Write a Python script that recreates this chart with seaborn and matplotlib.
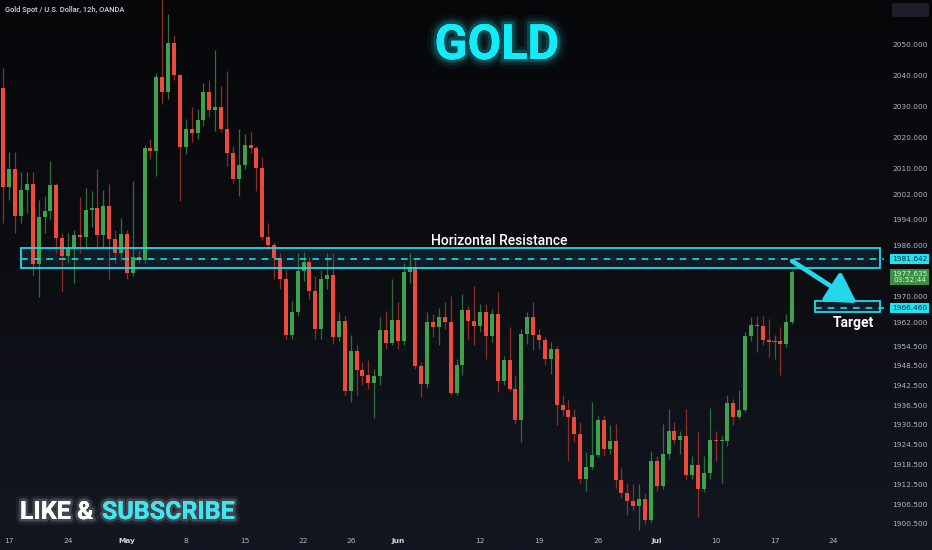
import numpy as np
import pandas as pd
import seaborn as sns
import matplotlib.pyplot as plt
import matplotlib.patheffects as PathEffects
from matplotlib.patches import Rectangle, FancyBboxPatch
from matplotlib.colors import LinearSegmentedColormap
from matplotlib.ticker import FixedLocator, NullLocator
from matplotlib.transforms import blended_transform_factory

# 12h candles, XAUUSD (OANDA), mid April -> 18 July 2023
opens = [2035.9, 2004.4, 2010.1, 1995.0, 2003.3, 2005.1, 1980.1, 1994.8, 1996.8, 2004.8,
         1988.2, 1982.6, 1985.0, 1989.1, 1988.4, 1997.1, 1997.8, 1989.2, 1998.2, 1987.8,
         1983.5, 1989.4, 1977.3, 1982.4, 1981.4, 2016.8, 2015.7, 2039.5, 2034.6, 2050.2,
         2040.0, 2017.0, 2022.6, 2021.3, 2025.5, 2034.6, 2028.8, 2029.7, 2022.6, 2015.2,
         2006.7, 2011.1, 2017.6, 2016.5, 2010.2, 1988.6, 1986.0, 1981.9, 1975.5, 1957.9,
         1965.1, 1978.0, 1980.7, 1971.7, 1959.9, 1975.3, 1976.5, 1957.4, 1962.5, 1940.7,
         1953.0, 1947.1, 1945.6, 1943.4, 1945.4, 1959.7, 1955.6, 1962.8, 1956.2, 1977.6,
         1979.2, 1948.5, 1942.8, 1962.0, 1960.6, 1963.5, 1962.0, 1940.3, 1948.9, 1965.8,
         1962.5, 1960.9, 1965.1, 1957.7, 1964.5, 1943.9, 1950.2, 1941.5, 1931.8, 1958.4,
         1963.5, 1957.9, 1956.6, 1950.7, 1953.8, 1936.6, 1934.9, 1932.8, 1927.7, 1913.9,
         1917.8, 1921.3, 1931.8, 1923.1, 1925.7, 1913.7, 1909.8, 1907.3, 1906.0, 1908.1,
         1901.7, 1919.5, 1911.9, 1921.6, 1928.7, 1926.0, 1927.2, 1915.2, 1918.2, 1910.9,
         1915.8, 1925.8, 1925.4, 1925.6, 1937.0, 1932.8, 1935.1, 1957.7, 1961.2, 1960.8,
         1956.6, 1955.9, 1956.1, 1955.1, 1962.0]
highs = [2042.3, 2015.3, 2015.3, 2008.9, 2008.9, 2008.9, 2000.3, 2001.3, 2012.4, 2005.7,
         1989.8, 1989.8, 1990.8, 2001.0, 2004.1, 2002.9, 2009.9, 2003.2, 2005.1, 1990.8,
         1994.6, 1990.8, 2006.1, 1984.5, 2017.5, 2019.4, 2040.8, 2079.0, 2059.8, 2052.9,
         2040.2, 2025.8, 2029.6, 2029.0, 2037.6, 2038.5, 2048.1, 2036.4, 2041.2, 2017.3,
         2022.6, 2021.0, 2021.6, 2017.3, 2013.7, 1993.0, 1987.0, 1983.5, 1978.3, 1968.6,
         1983.5, 1983.9, 1982.4, 1976.3, 1978.3, 1983.5, 1983.5, 1965.2, 1964.0, 1957.9,
         1954.8, 1949.7, 1950.2, 1947.7, 1963.6, 1965.5, 1975.3, 1968.1, 1980.4, 1983.6,
         1981.4, 1949.7, 1965.1, 1964.5, 1966.4, 1968.1, 1970.1, 1950.7, 1970.7, 1967.1,
         1973.2, 1967.6, 1967.6, 1966.1, 1971.4, 1951.7, 1960.5, 1945.6, 1959.9, 1965.1,
         1968.1, 1959.9, 1957.4, 1955.9, 1954.6, 1939.5, 1938.0, 1935.4, 1931.3, 1922.1,
         1937.4, 1933.3, 1933.3, 1930.3, 1930.8, 1917.5, 1912.9, 1912.4, 1912.4, 1909.8,
         1922.6, 1921.1, 1930.8, 1935.4, 1931.3, 1928.7, 1935.4, 1921.1, 1928.2, 1921.1,
         1935.6, 1928.7, 1927.2, 1939.5, 1938.5, 1941.0, 1958.9, 1963.5, 1964.0, 1964.0,
         1963.0, 1957.9, 1960.5, 1964.5, 1978.3]
lows = [1993.0, 2000.3, 1989.8, 1993.0, 1996.2, 1976.3, 1969.7, 1989.8, 1993.9, 1983.5,
        1971.6, 1980.5, 1974.3, 1983.5, 1985.4, 1991.7, 1985.4, 1985.4, 1975.3, 1980.5,
        1981.4, 1975.3, 1976.2, 1980.5, 1980.5, 2013.1, 2007.7, 2030.6, 2032.2, 2038.5,
        1999.8, 2014.6, 2018.5, 2019.4, 2023.7, 2026.4, 2022.1, 2021.7, 2010.9, 2005.6,
        2001.4, 2009.9, 2015.2, 2003.0, 1987.5, 1984.5, 1975.3, 1972.2, 1956.9, 1956.9,
        1964.0, 1974.7, 1969.1, 1956.9, 1956.9, 1972.2, 1955.3, 1956.3, 1939.5, 1937.4,
        1939.5, 1942.5, 1941.5, 1932.5, 1942.5, 1953.8, 1954.8, 1953.8, 1954.8, 1974.3,
        1947.7, 1939.0, 1941.7, 1957.5, 1954.8, 1959.9, 1939.5, 1939.5, 1945.6, 1956.9,
        1954.8, 1958.9, 1950.7, 1955.9, 1940.5, 1942.5, 1940.7, 1930.8, 1925.2, 1955.3,
        1953.3, 1953.8, 1948.7, 1946.1, 1930.3, 1933.3, 1919.5, 1925.2, 1912.9, 1910.3,
        1917.0, 1920.6, 1921.1, 1921.6, 1911.4, 1908.3, 1903.2, 1904.7, 1898.8, 1900.6,
        1901.1, 1910.3, 1910.9, 1920.1, 1924.7, 1921.6, 1913.9, 1913.9, 1902.7, 1910.0,
        1913.9, 1919.5, 1912.9, 1924.1, 1930.3, 1932.3, 1934.4, 1956.3, 1952.8, 1954.8,
        1951.3, 1950.7, 1945.8, 1954.3, 1961.5]
closes = [2004.4, 2010.1, 1995.0, 2003.3, 2005.1, 1980.1, 1994.8, 1996.8, 2004.8, 1988.2,
          1982.6, 1985.0, 1989.1, 1988.4, 1997.1, 1997.8, 1989.2, 1998.2, 1987.8, 1983.5,
          1989.4, 1977.3, 1982.4, 1981.4, 2016.8, 2015.7, 2039.5, 2034.6, 2050.2, 2040.0,
          2017.0, 2022.6, 2021.3, 2025.5, 2034.6, 2028.8, 2029.7, 2022.6, 2015.2, 2006.7,
          2011.1, 2017.6, 2016.5, 2010.2, 1988.6, 1986.0, 1981.9, 1975.5, 1957.9, 1965.1,
          1978.0, 1980.7, 1971.7, 1959.9, 1975.3, 1976.5, 1957.4, 1962.5, 1940.7, 1953.0,
          1947.1, 1945.4, 1943.4, 1945.4, 1959.7, 1955.6, 1962.8, 1956.2, 1977.6, 1979.2,
          1948.5, 1942.8, 1962.0, 1960.6, 1963.5, 1962.0, 1940.3, 1948.9, 1965.8, 1962.5,
          1960.9, 1965.1, 1957.7, 1964.5, 1943.9, 1950.2, 1941.5, 1931.8, 1958.4, 1963.5,
          1957.9, 1956.6, 1950.7, 1953.8, 1936.6, 1934.9, 1932.8, 1927.7, 1913.9, 1917.8,
          1921.3, 1931.8, 1923.1, 1925.7, 1913.7, 1909.8, 1907.3, 1906.0, 1908.1, 1901.7,
          1919.5, 1911.9, 1921.6, 1928.7, 1926.0, 1927.2, 1915.2, 1918.2, 1910.9, 1915.8,
          1925.8, 1925.4, 1925.6, 1937.0, 1932.8, 1935.1, 1957.7, 1961.2, 1960.8, 1956.6,
          1955.9, 1956.1, 1955.1, 1962.0, 1977.7]

date_ticks = [1, 11, 21, 31, 41, 51, 59, 67, 81, 91, 101, 111, 121, 131, 141]
date_labels = ["17", "24", "May", "8", "15", "22", "26", "Jun", "12", "19", "26", "Jul", "10", "17", "24"]
price_ticks = [1900.5, 1906.5, 1912.5, 1918.5, 1924.5, 1930.5, 1936.5, 1942.5, 1948.5, 1954.5,
               1962.0, 1970.0, 1986.0, 1994.0, 2002.0, 2010.0, 2020.0, 2030.0, 2040.0, 2050.0]

res_top, res_bot, res_line = 1985.2, 1978.7, 1981.642
tgt_top, tgt_bot, tgt_line = 1968.5, 1965.1, 1966.460
last_price, countdown = 1977.635, "03:52:44"

GREEN, RED = "#3fa14c", "#ee4a3c"
WICK_G, WICK_R = "#2f6e3a", "#8a302b"
CYAN = "#22d8ea"

sns.set_theme(style="dark", rc={"axes.facecolor": "none", "figure.facecolor": "#0b0c10",
                                "axes.grid": False})
plt.rcParams['font.family'] = ['DejaVu Sans']

df = pd.DataFrame({"open": opens, "high": highs, "low": lows, "close": closes})
df["i"] = np.arange(len(df))
up = (df.close >= df.open).values

W, H = 932, 550
fig = plt.figure(figsize=(W / 100, H / 100), dpi=100)

# background gradient
bg = fig.add_axes([0, 0, 1, 1], zorder=-10)
grad = np.linspace(0, 1, 256).reshape(-1, 1)
bg.imshow(grad, aspect="auto", extent=[0, 1, 0, 1], origin="upper",
          cmap=LinearSegmentedColormap.from_list("bg", ["#060709", "#0c0e12", "#131722"]))
bg.axis("off")

ax = fig.add_axes([0, 17 / H, 884 / W, 533 / H])
ax.set_facecolor("none")
ax.set_yscale("log")

# candles
ax.vlines(df.i[up], df.low[up], df.high[up], color=WICK_G, lw=0.9, zorder=2)
ax.vlines(df.i[~up], df.low[~up], df.high[~up], color=WICK_R, lw=0.9, zorder=2)
body = np.maximum((df.close - df.open).abs(), 0.35)
ax.bar(df.i, body, bottom=df[["open", "close"]].min(axis=1), width=0.68,
       color=np.where(up, GREEN, RED), linewidth=0, zorder=3)

xmin, xmax = -0.56, 149.6
ax.set_xlim(xmin, xmax)
ax.set_ylim(1897.8, 2064.3)

# resistance zone
rx0, rx1 = 3.0, 148.95
ax.add_patch(Rectangle((rx0, res_bot), rx1 - rx0, res_top - res_bot,
                       fc=(0.12, 0.45, 0.65, 0.16), ec="none", zorder=1))
ax.add_patch(Rectangle((rx0, res_bot), rx1 - rx0, res_top - res_bot,
                       fc="none", ec=CYAN, lw=1.3, zorder=4))
l, = ax.plot([rx0, xmax], [res_line, res_line], color=CYAN, lw=1.2, zorder=4)
l.set_dashes((4, 3.6))
ax.annotate("Horizontal Resistance", xy=(84.2, res_top), xytext=(0, 1.6),
            textcoords="offset points", ha="center", va="baseline",
            fontsize=10, color="white", family=["Roboto", "DejaVu Sans"], fontweight="medium")

# target zone
tx0, tx1 = 137.9, 148.95
ax.add_patch(Rectangle((tx0, tgt_bot), tx1 - tx0, tgt_top - tgt_bot,
                       fc=(0.12, 0.45, 0.65, 0.16), ec=CYAN, lw=1.3, zorder=4))
l2, = ax.plot([tx0, xmax], [tgt_line, tgt_line], color=CYAN, lw=1.2, zorder=4)
l2.set_dashes((4, 3.6))
ax.annotate("Target", xy=(144.4, tgt_bot), xytext=(0, -2.5), textcoords="offset points",
            ha="center", va="top", fontsize=10, color="white",
            family=["Roboto", "DejaVu Sans"], fontweight="bold")

# arrow from resistance down to target
ax.annotate("", xy=(145.0, 1967.9), xytext=(df.i.iloc[-1], 1981.0),
            arrowprops=dict(arrowstyle="-|>,head_length=0.55,head_width=0.32", lw=3.4,
                            color=CYAN, mutation_scale=32, shrinkA=0, shrinkB=0), zorder=5)

# axes styling
for s in ax.spines.values():
    s.set_visible(False)
ax.grid(False)
ax.yaxis.tick_right()
ax.yaxis.set_major_locator(FixedLocator(price_ticks))
ax.yaxis.set_minor_locator(NullLocator())
ax.set_yticklabels([f"{p:.3f}" for p in price_ticks])
ax.tick_params(axis="y", length=0, pad=6, labelsize=5.3, labelcolor="#b2b5be")
ax.set_xticks(date_ticks, date_labels)
ax.tick_params(axis="x", length=0, pad=3.5, labelsize=5.3, labelcolor="#b2b5be")
for t in ax.get_xticklabels():
    if t.get_text() in ("May", "Jun", "Jul"):
        t.set_fontweight("bold")
        t.set_color("#d1d4dc")

# price labels on the scale
trans = blended_transform_factory(fig.transFigure, ax.transData)
ax.text(909.5 / W, res_line, f"{res_line:.3f}", transform=trans, ha="center", va="center",
        fontsize=5.3, color="#0b2a30", zorder=6,
        bbox=dict(boxstyle="square,pad=0.25", fc="#1fe3f4", ec="none"))
ax.text(909.5 / W, last_price - 1.6, f"{last_price:.3f}\n{countdown}", transform=trans,
        ha="center", va="center", fontsize=5.3, color="#d9f2da", linespacing=1.1, zorder=6,
        bbox=dict(boxstyle="square,pad=0.3", fc="#3a8f42", ec="none"))
ax.text(909.5 / W, tgt_line, f"{tgt_line:.3f}", transform=trans, ha="center", va="center",
        fontsize=5.3, color="#0b2a30", zorder=6,
        bbox=dict(boxstyle="square,pad=0.25", fc="#1fe3f4", ec="none"))

# header texts
fig.text(5 / W, 1 - 10.5 / H, "Gold Spot / U.S. Dollar, 12h, OANDA", ha="left", va="center",
         fontsize=5.4, color="#d1d4dc", family=["Roboto", "DejaVu Sans"], fontweight="medium")
fig.patches.append(FancyBboxPatch((892 / W, 1 - 17 / H), 37 / W, 14 / H,
                                  boxstyle="round,pad=0,rounding_size=0.004",
                                  transform=fig.transFigure, fc="#1c1f27", ec="none"))

glow_c = [PathEffects.withStroke(linewidth=14, foreground=CYAN, alpha=0.05),
          PathEffects.withStroke(linewidth=9, foreground=CYAN, alpha=0.10),
          PathEffects.withStroke(linewidth=5, foreground=CYAN, alpha=0.20),
          PathEffects.Normal()]
fig.text(497 / W, 1 - 46 / H, "GOLD", ha="center", va="center", fontsize=35,
         fontweight="bold", color="#12ecf6",
         family=["Roboto", "DejaVu Sans"], path_effects=glow_c)

glow_w = [PathEffects.withStroke(linewidth=8, foreground="white", alpha=0.06),
          PathEffects.withStroke(linewidth=4, foreground="white", alpha=0.16),
          PathEffects.Normal()]
like = fig.text(20 / W, 1 - 512 / H, "LIKE &", ha="left", va="center", fontsize=18,
                fontweight="bold", color="white",
                family=["Roboto", "DejaVu Sans"], path_effects=glow_w)
ax.annotate("SUBSCRIBE", xy=(1, 0), xycoords=like, xytext=(6, 0), textcoords="offset points",
            ha="left", va="bottom", fontsize=18, fontweight="bold", color="#3fe6f0",
            family=["Roboto", "DejaVu Sans"], path_effects=glow_w, annotation_clip=False)

fig.savefig("out.png", dpi=100, facecolor=fig.get_facecolor())
